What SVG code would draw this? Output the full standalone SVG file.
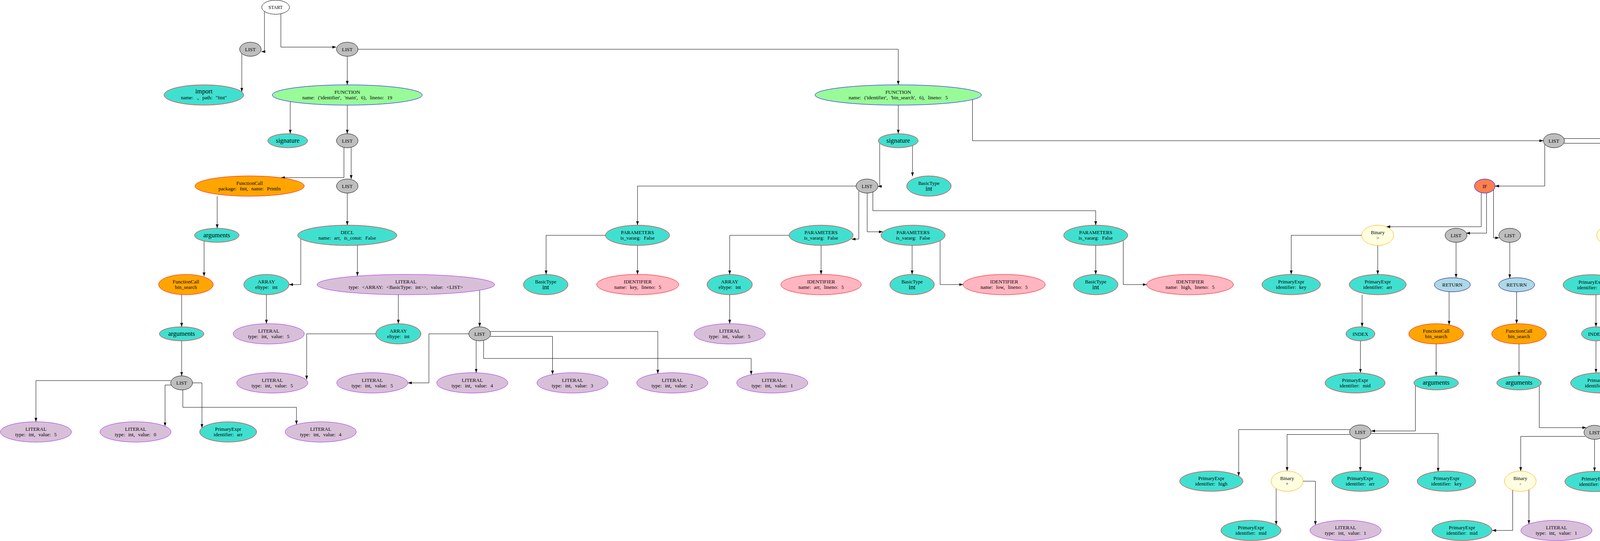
<svg xmlns="http://www.w3.org/2000/svg" width="5057" height="1384" viewBox="0 0 5057 1384">
<defs>
<marker id="arr" markerWidth="10" markerHeight="8" refX="10" refY="3.5" orient="auto" markerUnits="userSpaceOnUse"><path d="M0,0 L10,3.5 L0,7 z" fill="#000"/></marker>
<style>
.e{fill:none;stroke:#000;stroke-width:1;marker-end:url(#arr)}
ellipse{stroke-width:1}
.start{fill:#fff;stroke:#000}
.list{fill:#bebebe;stroke:#000}
.tq{fill:#40e0d0;stroke:#f00}
.fn{fill:#98fb98;stroke:#00f}
.fc{fill:#ffa500;stroke:#f00}
.lit{fill:#d8bfd8;stroke:#a020f0}
.id{fill:#ffb6c1;stroke:#f00}
.bin{fill:#ffffe0;stroke:#ffa500}
.if{fill:#ff7f50;stroke:#00f}
.ret{fill:#add8e6;stroke:#000080}
text{font-family:"Liberation Serif","DejaVu Serif",serif;font-size:13px;text-anchor:middle;word-spacing:5px;fill:#000}
.big{font-size:16.5px}
.sm{font-size:12px}
</style>
</defs>
<rect width="5057" height="1384" fill="#fff"/>
<g id="connectors">
<path class="e" d="M677,29 V132 H669"/>
<path class="e" d="M719,35 V120.5 H861"/>
<path class="e" d="M619,137 V235"/>
<path class="e" d="M889,144 V217"/>
<path class="e" d="M917,126 H2299.5 V217"/>
<path class="e" d="M743,260 V342"/>
<path class="e" d="M889,269 V342"/>
<path class="e" d="M880.5,377 V454.4 H719"/>
<path class="e" d="M899,377 V458"/>
<path class="e" d="M889,494 V576"/>
<path class="e" d="M556,502 V584"/>
<path class="e" d="M2299.5,269 V342"/>
<path class="e" d="M2489.5,255 V360 H3951"/>
<path class="e" d="M2252,367 V476.7 H2247"/>
<path class="e" d="M2336,372.6 V451"/>
<path class="e" d="M2191.5,476 H1632 V576"/>
<path class="e" d="M2198.5,489 V611.7 H2180"/>
<path class="e" d="M2220,494 V593 H2260"/>
<path class="e" d="M2234.5,491 V539 H2805 V576"/>
<path class="e" d="M770,611 V728 H740"/>
<path class="e" d="M915,627.5 V706"/>
<path class="e" d="M522.4,617 V707"/>
<path class="e" d="M465,753.5 V836"/>
<path class="e" d="M465,872 V961.5"/>
<path class="e" d="M682,754 V828"/>
<path class="e" d="M1019.7,754 V828"/>
<path class="e" d="M1228,742.5 V836"/>
<path class="e" d="M962,854 H785 V971"/>
<path class="e" d="M1200,854 H1098 V979.5 H1044"/>
<path class="e" d="M1219,871.5 V953.5"/>
<path class="e" d="M1255,860.5 H1414.5 V958"/>
<path class="e" d="M1255,848 H1684 V956"/>
<path class="e" d="M1238,871 V917 H1923 V958.6"/>
<path class="e" d="M437,973.7 H92 V1079"/>
<path class="e" d="M441,985 H422.5 V1090.5"/>
<path class="e" d="M493,979.5 H517 V1094.7"/>
<path class="e" d="M468,997.5 V1042 H759 V1086"/>
<path class="e" d="M1550,602 H1398 V702"/>
<path class="e" d="M1632,628 V702"/>
<path class="e" d="M2020,602 H1868 V702"/>
<path class="e" d="M2102,628 V702"/>
<path class="e" d="M1868,754 V828"/>
<path class="e" d="M2335,628 V702"/>
<path class="e" d="M2406.7,616 V728 H2465.6"/>
<path class="e" d="M2805,628 V702"/>
<path class="e" d="M2875.5,615 V728 H2935.5"/>
<path class="e" d="M3954.6,369 V476 H3827.5"/>
<path class="e" d="M4004,366.5 H4128.6 V458"/>
<path class="e" d="M4004,354.5 H4487 V458"/>
<path class="e" d="M3792,493 V580 H3549"/>
<path class="e" d="M3805.6,493.7 V596.4 H3753"/>
<path class="e" d="M3823.5,485.5 V608.5 H3838"/>
<path class="e" d="M3727.5,620 V710.5"/>
<path class="e" d="M3865,620 V711.8"/>
<path class="e" d="M3709.7,746 V831"/>
<path class="e" d="M3882.6,746.5 V828"/>
<path class="e" d="M3676.5,880 V961.5"/>
<path class="e" d="M3888.7,880 V961.5"/>
<path class="e" d="M3623.4,986 V1102.5 H3510"/>
<path class="e" d="M3940.5,987 V1094 H4061"/>
<path class="e" d="M3486,602 H3305.5 V702"/>
<path class="e" d="M3527,628 V702"/>
<path class="e" d="M3487,754 V836"/>
<path class="e" d="M3482.7,872 V953.5"/>
<path class="e" d="M4128.6,494 V576"/>
<path class="e" d="M4155,476 H4324.5 V584"/>
<path class="e" d="M4117.3,627.5 V702.5"/>
<path class="e" d="M4159.7,619 V728.5 H4221"/>
<path class="e" d="M4085.7,754.5 V836"/>
<path class="e" d="M4085.7,872 V953.5"/>
<path class="e" d="M4352,602 H4450.7 V718"/>
<path class="e" d="M4487,494 V580.3 H4592"/>
<path class="e" d="M4489,746.5 V828.4"/>
<path class="e" d="M4665,628 V702.5"/>
<path class="e" d="M4760.6,620 V728.5 H4796.5"/>
<path class="e" d="M4825.4,753 V845.5 H4798"/>
<path class="e" d="M4849.6,753 V863.4 H4880"/>
<path class="e" d="M4757.5,880.4 V979.4 H4720"/>
<path class="e" d="M4797.6,864 V971"/>
<path class="e" d="M3456.5,1099 H3171 V1218"/>
<path class="e" d="M3458,1111.5 H3295 V1205"/>
<path class="e" d="M3482.4,1123 V1205"/>
<path class="e" d="M3508,1109 H3681.6 V1207"/>
<path class="e" d="M3267,1250 V1342.8"/>
<path class="e" d="M3336,1231 H3367.4 V1343.2"/>
<path class="e" d="M4058,1116.4 H3893 V1205"/>
<path class="e" d="M4082,1124 V1205.7"/>
<path class="e" d="M4107,1111 H4302 V1206"/>
<path class="e" d="M4107,1099 H4508 V1207"/>
<path class="e" d="M3872.5,1253.8 V1357 H3820"/>
<path class="e" d="M3914,1253 V1340.6"/>
</g>
<g id="nodes">
<g id="n_start"><ellipse class="start" cx="705.5" cy="18.5" rx="35.5" ry="18"/><text class="sm" x="705.5" y="23">START</text></g>
<g id="n_list1"><ellipse class="list" cx="641" cy="126" rx="27.5" ry="18"/><text x="641" y="130.5">LIST</text></g>
<g id="n_list2"><ellipse class="list" cx="889" cy="126" rx="27.5" ry="18"/><text x="889" y="130.5">LIST</text></g>
<g id="n_import"><ellipse class="tq" cx="522" cy="243" rx="102" ry="26"/><text class="big" x="522" y="239">import</text><text x="522" y="254">name: ., path: "fmt"</text></g>
<g id="n_fn_main"><ellipse class="fn" cx="889" cy="243" rx="192" ry="26"/><text x="889" y="240">FUNCTION</text><text x="889" y="254">name: ('identifier', 'main', 6), lineno: 19</text></g>
<g id="n_fn_bs"><ellipse class="fn" cx="2299.5" cy="243" rx="213" ry="26"/><text x="2299.5" y="240">FUNCTION</text><text x="2299.5" y="254">name: ('identifier', 'bin_search', 6), lineno: 5</text></g>
<g id="n_sig_main"><ellipse class="tq" cx="736.5" cy="360" rx="51" ry="18"/><text class="big" x="736.5" y="364.5">signature</text></g>
<g id="n_list3"><ellipse class="list" cx="889" cy="360" rx="27.5" ry="18"/><text x="889" y="364.5">LIST</text></g>
<g id="n_sig_bs"><ellipse class="tq" cx="2299.5" cy="360" rx="51" ry="18"/><text class="big" x="2299.5" y="364.5">signature</text></g>
<g id="n_list_big"><ellipse class="list" cx="3978" cy="360" rx="27" ry="18"/><text x="3978" y="364.5">LIST</text></g>
<g id="n_fc_println"><ellipse class="fc" cx="639" cy="476" rx="140" ry="26"/><text x="639" y="473">FunctionCall</text><text x="639" y="487">package: fmt, name: Println</text></g>
<g id="n_list4"><ellipse class="list" cx="889" cy="476" rx="27.5" ry="18"/><text x="889" y="480.5">LIST</text></g>
<g id="n_list_params"><ellipse class="list" cx="2219.5" cy="476" rx="28" ry="18"/><text x="2219.5" y="480.5">LIST</text></g>
<g id="n_bt_ret"><ellipse class="tq" cx="2378" cy="476" rx="57" ry="26"/><text x="2378" y="473">BasicType</text><text class="big" x="2378" y="488">int</text></g>
<g id="n_if1"><ellipse class="if" cx="3801" cy="476" rx="26.5" ry="18"/><text x="3801" y="480.5">IF</text></g>
<g id="n_if2"><ellipse class="if" cx="4128.6" cy="476" rx="26.5" ry="18"/><text x="4128.6" y="480.5">IF</text></g>
<g id="n_list_r"><ellipse class="list" cx="4487" cy="476" rx="27.5" ry="18"/><text x="4487" y="480.5">LIST</text></g>
<g id="n_args_println"><ellipse class="tq" cx="555" cy="602" rx="57" ry="18"/><text class="big" x="555" y="606.5">arguments</text></g>
<g id="n_decl_arr"><ellipse class="tq" cx="889" cy="602" rx="127" ry="26"/><text x="889" y="599">DECL</text><text x="889" y="613">name: arr, is_const: False</text></g>
<g id="n_params_key"><ellipse class="tq" cx="1632" cy="602" rx="82" ry="26"/><text x="1632" y="599">PARAMETERS</text><text x="1632" y="613">is_vararg: False</text></g>
<g id="n_params_arr"><ellipse class="tq" cx="2102" cy="602" rx="82" ry="26"/><text x="2102" y="599">PARAMETERS</text><text x="2102" y="613">is_vararg: False</text></g>
<g id="n_params_low"><ellipse class="tq" cx="2337.5" cy="602" rx="82" ry="26"/><text x="2337.5" y="599">PARAMETERS</text><text x="2337.5" y="613">is_vararg: False</text></g>
<g id="n_params_high"><ellipse class="tq" cx="2805" cy="602" rx="82" ry="26"/><text x="2805" y="599">PARAMETERS</text><text x="2805" y="613">is_vararg: False</text></g>
<g id="n_bin_gt"><ellipse class="bin" cx="3527" cy="602" rx="41" ry="26"/><text x="3527" y="599">Binary</text><text x="3527" y="613">&gt;</text></g>
<g id="n_list_if1a"><ellipse class="list" cx="3727.5" cy="602" rx="28" ry="18"/><text x="3727.5" y="606.5">LIST</text></g>
<g id="n_list_if1b"><ellipse class="list" cx="3865" cy="602" rx="28" ry="18"/><text x="3865" y="606.5">LIST</text></g>
<g id="n_bin_eq"><ellipse class="bin" cx="4128.6" cy="602" rx="41" ry="26"/><text x="4128.6" y="599">Binary</text><text x="4128.6" y="613">==</text></g>
<g id="n_list_if2"><ellipse class="list" cx="4324.5" cy="602" rx="27.5" ry="18"/><text x="4324.5" y="606.5">LIST</text></g>
<g id="n_decl_mid"><ellipse class="tq" cx="4665" cy="602" rx="132" ry="26"/><text x="4665" y="599">DECL</text><text x="4665" y="613">name: mid, is_const: False</text></g>
<g id="n_fc_bs_main"><ellipse class="fc" cx="476" cy="728" rx="70" ry="26"/><text x="476" y="725">FunctionCall</text><text x="476" y="739">bin_search</text></g>
<g id="n_array1"><ellipse class="tq" cx="682" cy="728" rx="58" ry="26"/><text x="682" y="725">ARRAY</text><text x="682" y="739">eltype: int</text></g>
<g id="n_lit_arr"><ellipse class="lit" cx="1039" cy="728" rx="227.5" ry="26"/><text x="1039" y="725">LITERAL</text><text x="1039" y="739">type: &lt;ARRAY: &lt;BasicType: int&gt;&gt;, value: &lt;LIST&gt;</text></g>
<g id="n_bt_key"><ellipse class="tq" cx="1397" cy="728" rx="57" ry="26"/><text x="1397" y="725">BasicType</text><text class="big" x="1397" y="740">int</text></g>
<g id="n_id_key"><ellipse class="id" cx="1632.6" cy="728" rx="105" ry="26"/><text x="1632.6" y="725">IDENTIFIER</text><text x="1632.6" y="739">name: key, lineno: 5</text></g>
<g id="n_array_p"><ellipse class="tq" cx="1868" cy="728" rx="58" ry="26"/><text x="1868" y="725">ARRAY</text><text x="1868" y="739">eltype: int</text></g>
<g id="n_id_arr"><ellipse class="id" cx="2102" cy="728" rx="103" ry="26"/><text x="2102" y="725">IDENTIFIER</text><text x="2102" y="739">name: arr, lineno: 5</text></g>
<g id="n_bt_low"><ellipse class="tq" cx="2335" cy="728" rx="57" ry="26"/><text x="2335" y="725">BasicType</text><text class="big" x="2335" y="740">int</text></g>
<g id="n_id_low"><ellipse class="id" cx="2570.6" cy="728" rx="105" ry="26"/><text x="2570.6" y="725">IDENTIFIER</text><text x="2570.6" y="739">name: low, lineno: 5</text></g>
<g id="n_bt_high"><ellipse class="tq" cx="2805" cy="728" rx="57" ry="26"/><text x="2805" y="725">BasicType</text><text class="big" x="2805" y="740">int</text></g>
<g id="n_id_high"><ellipse class="id" cx="3046.5" cy="728" rx="111" ry="26"/><text x="3046.5" y="725">IDENTIFIER</text><text x="3046.5" y="739">name: high, lineno: 5</text></g>
<g id="n_pe_key1"><ellipse class="tq" cx="3305.5" cy="728" rx="75" ry="26"/><text x="3305.5" y="725">PrimaryExpr</text><text x="3305.5" y="739">identifier: key</text></g>
<g id="n_pe_arr1"><ellipse class="tq" cx="3527" cy="728" rx="73" ry="26"/><text x="3527" y="725">PrimaryExpr</text><text x="3527" y="739">identifier: arr</text></g>
<g id="n_ret_a"><ellipse class="ret" cx="3718" cy="728.5" rx="46" ry="18"/><text x="3718" y="733">RETURN</text></g>
<g id="n_ret_b"><ellipse class="ret" cx="3882.6" cy="728.5" rx="46" ry="18"/><text x="3882.6" y="733">RETURN</text></g>
<g id="n_pe_arr2"><ellipse class="tq" cx="4074.5" cy="728.5" rx="73" ry="26"/><text x="4074.5" y="725.5">PrimaryExpr</text><text x="4074.5" y="739.5">identifier: arr</text></g>
<g id="n_pe_key2"><ellipse class="tq" cx="4296" cy="728.5" rx="75" ry="26"/><text x="4296" y="725.5">PrimaryExpr</text><text x="4296" y="739.5">identifier: key</text></g>
<g id="n_ret_c"><ellipse class="ret" cx="4489" cy="728.5" rx="46" ry="18"/><text x="4489" y="733">RETURN</text></g>
<g id="n_bt_mid"><ellipse class="tq" cx="4665" cy="728.5" rx="57" ry="26"/><text x="4665" y="725.5">BasicType</text><text class="big" x="4665" y="740.5">int</text></g>
<g id="n_bin_div"><ellipse class="bin" cx="4837" cy="728.5" rx="40.5" ry="26"/><text x="4837" y="725.5">Binary</text><text x="4837" y="739.5">/</text></g>
<g id="n_args_bs_main"><ellipse class="tq" cx="465" cy="854" rx="57" ry="18"/><text class="big" x="465" y="858.5">arguments</text></g>
<g id="n_lit5a"><ellipse class="lit" cx="688" cy="854" rx="91" ry="26"/><text x="688" y="851">LITERAL</text><text x="688" y="865">type: int, value: 5</text></g>
<g id="n_array2"><ellipse class="tq" cx="1019.7" cy="854" rx="58" ry="26"/><text x="1019.7" y="851">ARRAY</text><text x="1019.7" y="865">eltype: int</text></g>
<g id="n_list5"><ellipse class="list" cx="1228" cy="854" rx="28" ry="18"/><text x="1228" y="858.5">LIST</text></g>
<g id="n_lit5p"><ellipse class="lit" cx="1868" cy="854" rx="91" ry="26"/><text x="1868" y="851">LITERAL</text><text x="1868" y="865">type: int, value: 5</text></g>
<g id="n_index1"><ellipse class="tq" cx="3482.7" cy="854" rx="37" ry="18"/><text x="3482.7" y="858.5">INDEX</text></g>
<g id="n_fc_a"><ellipse class="fc" cx="3676.5" cy="854" rx="70" ry="26"/><text x="3676.5" y="851">FunctionCall</text><text x="3676.5" y="865">bin_search</text></g>
<g id="n_fc_b"><ellipse class="fc" cx="3888.7" cy="854" rx="70" ry="26"/><text x="3888.7" y="851">FunctionCall</text><text x="3888.7" y="865">bin_search</text></g>
<g id="n_index2"><ellipse class="tq" cx="4085.7" cy="854" rx="37" ry="18"/><text x="4085.7" y="858.5">INDEX</text></g>
<g id="n_pe_mid_r"><ellipse class="tq" cx="4489" cy="854.4" rx="76.5" ry="26"/><text x="4489" y="851.4">PrimaryExpr</text><text x="4489" y="865.4">identifier: mid</text></g>
<g id="n_bin_plus2"><ellipse class="bin" cx="4759.6" cy="854.4" rx="41" ry="26"/><text x="4759.6" y="851.4">Binary</text><text x="4759.6" y="865.4">+</text></g>
<g id="n_lit2"><ellipse class="lit" cx="4965.4" cy="854.4" rx="91" ry="26"/><text x="4965.4" y="851.4">LITERAL</text><text x="4965.4" y="865.4">type: int, value: 2</text></g>
<g id="n_list6"><ellipse class="list" cx="465" cy="979.5" rx="28" ry="18"/><text x="465" y="984">LIST</text></g>
<g id="n_lit5b"><ellipse class="lit" cx="697" cy="979.5" rx="91" ry="26"/><text x="697" y="976.5">LITERAL</text><text x="697" y="990.5">type: int, value: 5</text></g>
<g id="n_lit5c"><ellipse class="lit" cx="953" cy="979.5" rx="91" ry="26"/><text x="953" y="976.5">LITERAL</text><text x="953" y="990.5">type: int, value: 5</text></g>
<g id="n_lit4"><ellipse class="lit" cx="1209" cy="979.5" rx="91" ry="26"/><text x="1209" y="976.5">LITERAL</text><text x="1209" y="990.5">type: int, value: 4</text></g>
<g id="n_lit3"><ellipse class="lit" cx="1465.5" cy="979.5" rx="91" ry="26"/><text x="1465.5" y="976.5">LITERAL</text><text x="1465.5" y="990.5">type: int, value: 3</text></g>
<g id="n_lit2b"><ellipse class="lit" cx="1721" cy="979.5" rx="91" ry="26"/><text x="1721" y="976.5">LITERAL</text><text x="1721" y="990.5">type: int, value: 2</text></g>
<g id="n_lit1"><ellipse class="lit" cx="1977" cy="979.5" rx="91" ry="26"/><text x="1977" y="976.5">LITERAL</text><text x="1977" y="990.5">type: int, value: 1</text></g>
<g id="n_pe_mid1"><ellipse class="tq" cx="3469" cy="979.5" rx="77" ry="26"/><text x="3469" y="976.5">PrimaryExpr</text><text x="3469" y="990.5">identifier: mid</text></g>
<g id="n_args_a"><ellipse class="tq" cx="3676.5" cy="979.5" rx="57" ry="18"/><text class="big" x="3676.5" y="984">arguments</text></g>
<g id="n_args_b"><ellipse class="tq" cx="3888.7" cy="979.5" rx="57" ry="18"/><text class="big" x="3888.7" y="984">arguments</text></g>
<g id="n_pe_mid2"><ellipse class="tq" cx="4097" cy="979.5" rx="76.5" ry="26"/><text x="4097" y="976.5">PrimaryExpr</text><text x="4097" y="990.5">identifier: mid</text></g>
<g id="n_pe_low"><ellipse class="tq" cx="4644.8" cy="979.4" rx="75" ry="26"/><text x="4644.8" y="976.4">PrimaryExpr</text><text x="4644.8" y="990.4">identifier: low</text></g>
<g id="n_pe_high"><ellipse class="tq" cx="4874" cy="979.4" rx="80.5" ry="26"/><text x="4874" y="976.4">PrimaryExpr</text><text x="4874" y="990.4">identifier: high</text></g>
<g id="n_lit5d"><ellipse class="lit" cx="92" cy="1105" rx="91" ry="26"/><text x="92" y="1102">LITERAL</text><text x="92" y="1116">type: int, value: 5</text></g>
<g id="n_lit0"><ellipse class="lit" cx="347" cy="1105" rx="91" ry="26"/><text x="347" y="1102">LITERAL</text><text x="347" y="1116">type: int, value: 0</text></g>
<g id="n_pe_arr0"><ellipse class="tq" cx="584" cy="1105" rx="73" ry="26"/><text x="584" y="1102">PrimaryExpr</text><text x="584" y="1116">identifier: arr</text></g>
<g id="n_lit4b"><ellipse class="lit" cx="821" cy="1105" rx="91" ry="26"/><text x="821" y="1102">LITERAL</text><text x="821" y="1116">type: int, value: 4</text></g>
<g id="n_list7"><ellipse class="list" cx="3482.4" cy="1105" rx="27.5" ry="18"/><text x="3482.4" y="1109.5">LIST</text></g>
<g id="n_list8"><ellipse class="list" cx="4082" cy="1106" rx="27" ry="18"/><text x="4082" y="1110.5">LIST</text></g>
<g id="n_pe_high2"><ellipse class="tq" cx="3101" cy="1231" rx="81" ry="26"/><text x="3101" y="1228">PrimaryExpr</text><text x="3101" y="1242">identifier: high</text></g>
<g id="n_bin_plus1"><ellipse class="bin" cx="3295" cy="1231" rx="41" ry="26"/><text x="3295" y="1228">Binary</text><text x="3295" y="1242">+</text></g>
<g id="n_pe_arr3"><ellipse class="tq" cx="3482" cy="1231" rx="73" ry="26"/><text x="3482" y="1228">PrimaryExpr</text><text x="3482" y="1242">identifier: arr</text></g>
<g id="n_pe_key3"><ellipse class="tq" cx="3703" cy="1231" rx="75" ry="26"/><text x="3703" y="1228">PrimaryExpr</text><text x="3703" y="1242">identifier: key</text></g>
<g id="n_bin_minus"><ellipse class="bin" cx="3892" cy="1231" rx="40.5" ry="26"/><text x="3892" y="1228">Binary</text><text x="3892" y="1242">-</text></g>
<g id="n_pe_low2"><ellipse class="tq" cx="4082" cy="1231.7" rx="76" ry="26"/><text x="4082" y="1228.7">PrimaryExpr</text><text x="4082" y="1242.7">identifier: low</text></g>
<g id="n_pe_arr4"><ellipse class="tq" cx="4305" cy="1231.7" rx="72.6" ry="26"/><text x="4305" y="1228.7">PrimaryExpr</text><text x="4305" y="1242.7">identifier: arr</text></g>
<g id="n_pe_key4"><ellipse class="tq" cx="4525.5" cy="1231.7" rx="75" ry="26"/><text x="4525.5" y="1228.7">PrimaryExpr</text><text x="4525.5" y="1242.7">identifier: key</text></g>
<g id="n_pe_mid3"><ellipse class="tq" cx="3202.5" cy="1357" rx="77" ry="26"/><text x="3202.5" y="1354">PrimaryExpr</text><text x="3202.5" y="1368">identifier: mid</text></g>
<g id="n_lit1b"><ellipse class="lit" cx="3444.6" cy="1357" rx="91" ry="26"/><text x="3444.6" y="1354">LITERAL</text><text x="3444.6" y="1368">type: int, value: 1</text></g>
<g id="n_pe_mid4"><ellipse class="tq" cx="3742.7" cy="1357" rx="77" ry="26"/><text x="3742.7" y="1354">PrimaryExpr</text><text x="3742.7" y="1368">identifier: mid</text></g>
<g id="n_lit1c"><ellipse class="lit" cx="3984.5" cy="1357" rx="91" ry="26"/><text x="3984.5" y="1354">LITERAL</text><text x="3984.5" y="1368">type: int, value: 1</text></g>
</g>
</svg>
